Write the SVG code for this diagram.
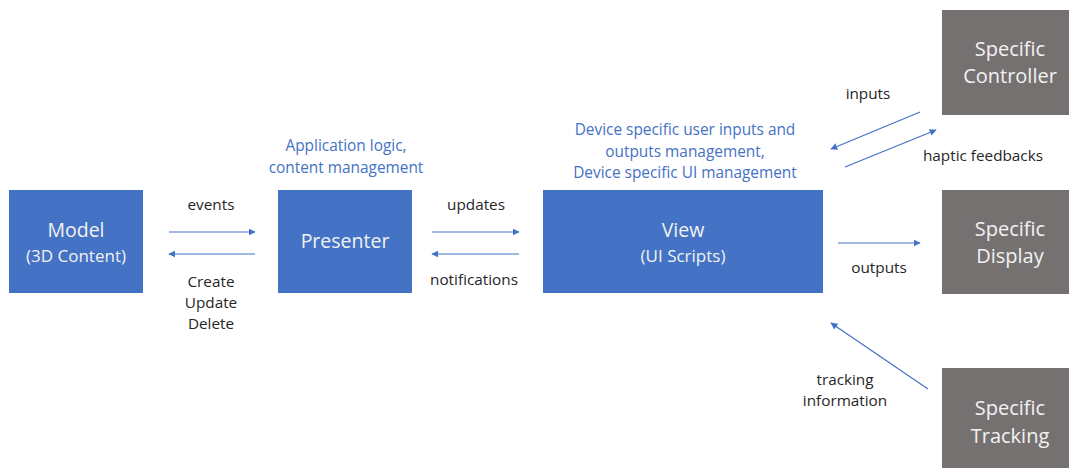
<svg xmlns="http://www.w3.org/2000/svg" width="1069" height="468" viewBox="0 0 1069 468">
<style>
text{font-family:"Open Sans","Noto Sans",sans-serif;text-anchor:middle}
.blue{fill:#4472C4}
.gray{fill:#767171}
.bt{fill:#F2F2F2;font-size:19.5px}
.bs{fill:#F2F2F2;font-size:17px}
.gt{fill:#F2F2F2;font-size:20px}
.lbl{fill:#262626;font-size:15.3px}
.note{fill:#4472C4;font-size:15.4px}
.c{stroke:#4472C4;stroke-width:1.2;fill:none;marker-end:url(#ah)}
</style>
<defs>
<marker id="ah" viewBox="0 0 10 10" refX="9" refY="5" markerWidth="7" markerHeight="7" markerUnits="userSpaceOnUse" orient="auto">
<path d="M0,0 L10,5 L0,10 z" fill="#4472C4"/>
</marker>
</defs>
<rect width="1069" height="468" fill="#fff"/>
<g id="model"><rect class="blue" x="9" y="190" width="134" height="103"/>
<text class="bt" x="76" y="237">Model</text><text class="bs" x="76" y="262">(3D Content)</text></g>
<g id="presenter"><rect class="blue" x="278" y="190" width="134" height="103"/>
<text class="bt" x="345" y="248">Presenter</text></g>
<g id="view"><rect class="blue" x="543" y="190" width="280" height="103"/>
<text class="bt" x="683" y="237">View</text><text class="bs" x="683" y="262">(UI Scripts)</text></g>
<g id="controller"><rect class="gray" x="942" y="10" width="140" height="105"/>
<text class="gt" x="1010" y="56">Specific</text><text class="gt" x="1010" y="83">Controller</text></g>
<g id="display"><rect class="gray" x="942" y="190" width="140" height="104"/>
<text class="gt" x="1010" y="236">Specific</text><text class="gt" x="1010" y="263">Display</text></g>
<g id="tracking"><rect class="gray" x="942" y="368" width="140" height="110"/>
<text class="gt" x="1010" y="415">Specific</text><text class="gt" x="1010" y="443">Tracking</text></g>
<g id="notes">
<text class="note" x="346" y="151">Application logic,</text>
<text class="note" x="346" y="173">content management</text>
<text class="note" x="685" y="135">Device specific user inputs and</text>
<text class="note" x="685" y="157">outputs management,</text>
<text class="note" x="685" y="178">Device specific UI management</text>
</g>
<g id="connectors">
<line class="c" x1="169" y1="232" x2="255" y2="232"/>
<line class="c" x1="255" y1="254" x2="169" y2="254"/>
<line class="c" x1="432" y1="232" x2="519" y2="232"/>
<line class="c" x1="519" y1="254" x2="432" y2="254"/>
<line class="c" x1="838" y1="243" x2="920" y2="243"/>
<line class="c" x1="920" y1="112" x2="831" y2="149"/>
<line class="c" x1="845" y1="167" x2="936" y2="130"/>
<line class="c" x1="928" y1="389" x2="831" y2="323"/>
<text class="lbl" x="211" y="210">events</text>
<text class="lbl" x="211" y="287">Create</text>
<text class="lbl" x="211" y="308">Update</text>
<text class="lbl" x="211" y="329">Delete</text>
<text class="lbl" x="476" y="210">updates</text>
<text class="lbl" x="474" y="285">notifications</text>
<text class="lbl" x="868" y="99">inputs</text>
<text class="lbl" x="983" y="161">haptic feedbacks</text>
<text class="lbl" x="879" y="273">outputs</text>
<text class="lbl" x="845" y="385">tracking</text>
<text class="lbl" x="845" y="406">information</text>
</g>
</svg>
